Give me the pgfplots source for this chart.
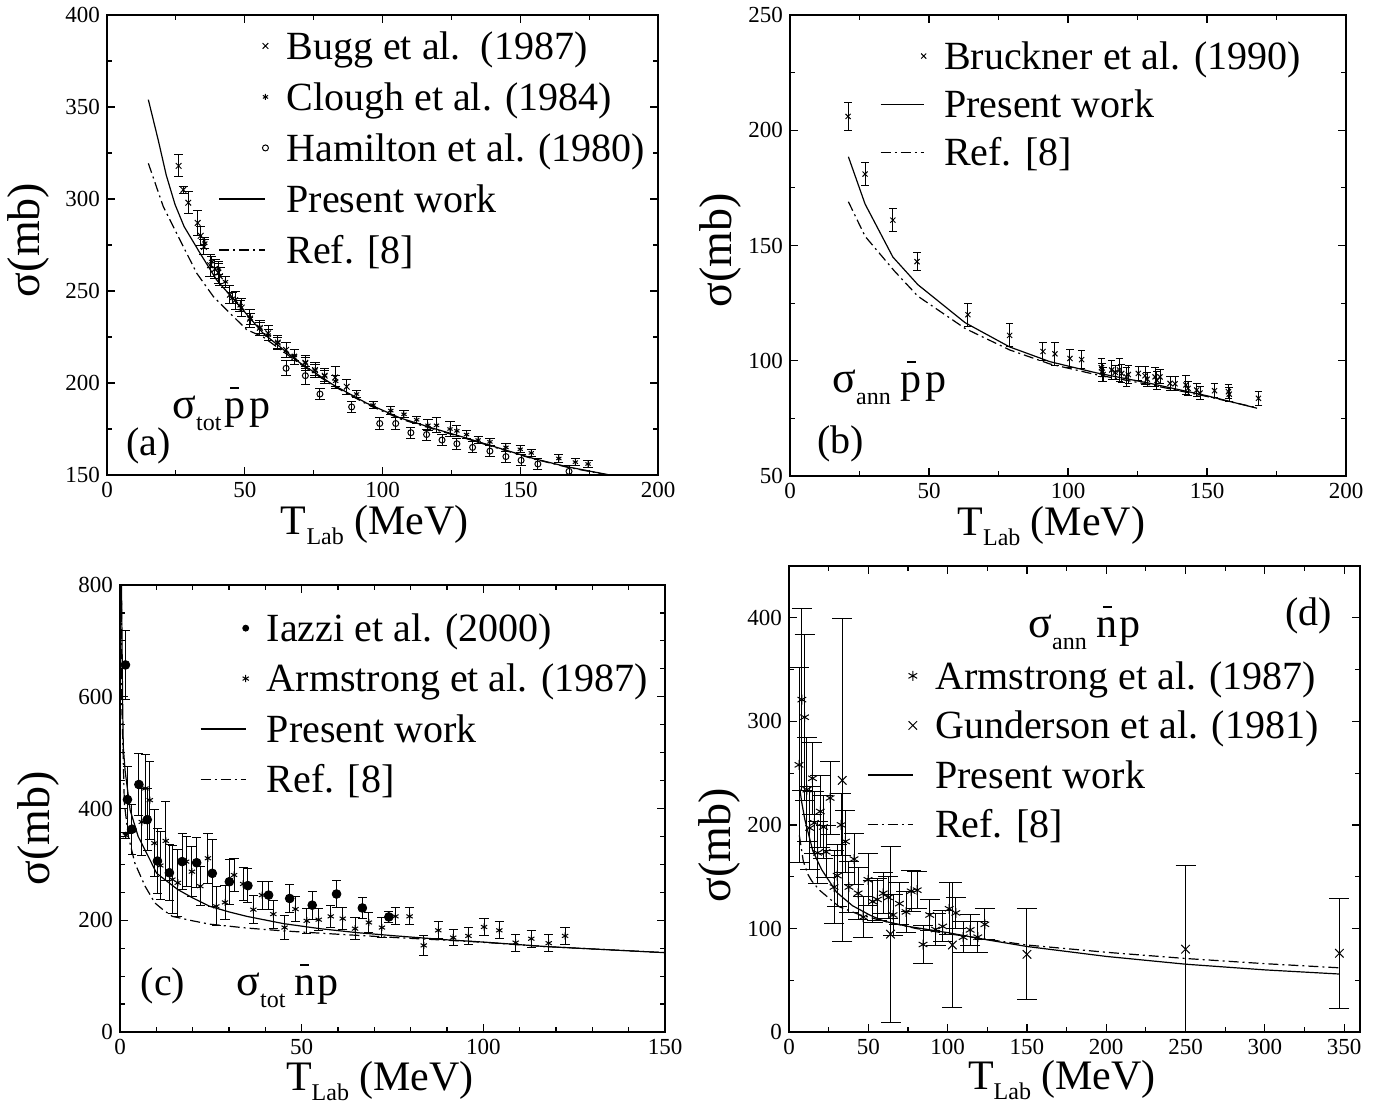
\documentclass[border=0pt]{standalone}
\usepackage{fontspec}
\setmainfont{Liberation Serif}
\usepackage{pgfplots}
\pgfplotsset{compat=1.18}

\newcommand{\ovl}[1]{\makebox[0pt][l]{\hspace{3pt}\rule[14.5pt]{4.5pt}{0.8pt}}#1}
\newcommand{\sig}[3]{{\fontsize{22}{26}\selectfont σ}\raisebox{-6pt}{\fontsize{12}{14}\selectfont #1}\hspace{#3}{\fontsize{21}{25}\selectfont #2}}

\pgfplotsset{
  base/.style={
    scale only axis,
    axis line style={line width=0.9pt},
    every tick/.style={black, line width=0.6pt},
    major tick length=4pt, minor tick length=2.5pt,
    tick align=inside,
    tick label style={font=\fontsize{11.5}{13}\selectfont},
    /pgf/number format/assume math mode=true,
    xlabel style={font=\fontsize{21}{25}\selectfont, anchor=base},
    ylabel style={font=\fontsize{23}{27}\selectfont, anchor=center},
    legend cell align=left,
    legend style={draw=none, fill=none, inner sep=0pt, outer sep=0pt, anchor=north west,
       font=\fontsize{20}{24}\selectfont,
       nodes={inner sep=0pt, text height=17pt, text depth=3.8pt},
       /tikz/every odd column/.append style={column sep=9pt}},
  },
  sol/.style={black, line width=0.6pt, mark=none},
  dd/.style={black, line width=0.6pt, mark=none, dash pattern=on 5pt off 2pt on 1pt off 2pt},
  lineleg/.style={legend image code/.code={\draw[##1] (0pt,0pt) -- (#1,0pt);}},
  markleg/.style={legend image code/.code={\path[draw=none, fill=none, opacity=0] (0pt,0pt) rectangle (#1,0.1pt); \draw[##1, only marks] plot coordinates {(#1,0pt)};}},
  dotleg/.style={legend image code/.code={\path[draw=none, fill=none, opacity=0] (0pt,0pt) rectangle (#1,0.1pt); \draw[##1, only marks, mark size=1.5pt] plot coordinates {(#1,0pt)};}},
  ebar/.style={error bars/y dir=both, error bars/y explicit,
     error bars/error bar style={line width=0.5pt, black},
     error bars/error mark options={rotate=90, line width=0.5pt, mark size=#1, black}},
}

\begin{document}
\begin{tikzpicture}
\path[use as bounding box] (0pt,0pt) rectangle (692.5pt,-552pt);

% ---------------- (a) ----------------
\begin{axis}[base, at={(53.5pt,-7.5pt)}, anchor=north west, width=275.5pt, height=230pt,
  xmin=0, xmax=200, ymin=150, ymax=400,
  xtick={0,50,...,200}, ytick={150,200,...,400}, minor x tick num=1, minor y tick num=1,
  xlabel={T\raisebox{-5pt}{\fontsize{12}{14}\selectfont Lab} (MeV)}, ylabel={σ(mb)},
  xlabel style={at={(axis description cs:0.486,-0.130)}},
  ylabel style={at={(axis description cs:-0.143,0.511)}},
  legend style={at={(axis description cs:0.203,0.978)}, row sep=4.7pt}]
\addplot[only marks, mark=x, mark size=2pt, mark options={line width=0.5pt}, markleg=23pt, ebar=2.3pt]
 table[x=x, y=y, y error=e] {
x y e
26 318 6
27.7 305 2
29.5 298 6
32.9 287 7
34 280 5
35.2 274 4
37.4 264 6
39.2 262 5
40.4 260 6
41 258 5
44.6 248 5
46.5 245 5
48.9 241 5
51.9 235 5
55.5 230 4
58.5 227 4
62 222 4
65 218 4
68 214 4
72 211 4
75.5 207 4
79 204 4
82.8 203 6
87 198 4
};
\addlegendentry{Bugg et al.\ \ (1987)}
\addplot[only marks, mark=asterisk, mark size=1.5pt, mark options={line width=0.5pt}, markleg=23pt, ebar=2.3pt]
 table[x=x, y=y, y error=e] {
x y e
35.5 276 3
38 266 3
40.5 262 3
43 255 3
45.5 246 3
48.3 242 3
52 235 3
55.5 230 3
58.5 226 3
62 222 3
68 215 3
72 211 3
75.5 207 3
79 204 3
83 201 3
90.6 194 2
96.6 188 2
103 185 2
107.8 183 2
112.4 180 2
116.5 177 3
119.6 177 4
124.5 175 4
127 174 3
130.5 172 2
134.7 169 2
139 168 2
144.8 165 2
150 164 2
154 162 2
164 159 2
170 157 2
174.6 156 2
};
\addlegendentry{Clough et al. (1984)}
\addplot[only marks, mark=o, mark size=1.5pt, mark options={line width=0.5pt}, markleg=23pt, ebar=2.3pt]
 table[x=x, y=y, y error=e] {
x y e
65 208 4
72 204 5
77.3 194 3
88.8 187 3
99 178 3
104.8 178 3
110.3 173 3
116 172 3
121.6 169 3
127 167 3
132.7 165 3
139 163 3
144.8 160 3
150.3 158 3
156.4 156 3
167.7 152 3
};
\addlegendentry{Hamilton et al. (1980)}
\addplot[sol, lineleg=23pt] table[x=x, y=y] {
x y
15 354
18.6 332
21.5 313
24.7 297
28 285
33.8 270.5
39.8 256
48.3 241.5
56.7 227
70 211
82.1 199
94.3 189
106.4 181
118.4 175.4
130.6 170
142.6 164.5
154.7 159
166.9 154.5
182.6 150
};
\addlegendentry{Present work}
\addplot[dd, lineleg=23pt] table[x=x, y=y] {
x y
15 319.4
20.4 296
26.5 277.7
32.6 259.6
38.6 247
44.6 238
50.7 229
56.7 225
70 210.5
82.1 198.5
94.3 188.5
106.4 180.5
118.4 175
130.6 169.7
142.6 164.2
154.7 158.8
166.9 154.3
182.6 149.8
};
\addlegendentry{Ref. [8]}
\end{axis}

% ---------------- (b) ----------------
\begin{axis}[base, at={(395pt,-7.5pt)}, anchor=north west, width=278pt, height=230.5pt,
  xmin=0, xmax=200, ymin=50, ymax=250,
  xtick={0,50,...,200}, ytick={50,100,...,250}, minor x tick num=1, minor y tick num=1,
  xlabel={T\raisebox{-5pt}{\fontsize{12}{14}\selectfont Lab} (MeV)}, ylabel={σ(mb)},
  xlabel style={at={(axis description cs:0.47,-0.130)}},
  ylabel style={at={(axis description cs:-0.126,0.49)}},
  legend style={at={(axis description cs:0.162,0.956)}, row sep=3.35pt}]
\addplot[only marks, mark=x, mark size=1.8pt, mark options={line width=0.5pt}, markleg=21.5pt, ebar=1.9pt]
 table[x=x, y=y, y error=e] {
x y e
20.9 206 6
27 181 5
37 161 5
45.7 143 4
64 120 5
79 111 5
91 104 4
95.3 103 5
100.7 101 4
104.9 100.5 4
112 97 4
112.3 95 4
112.6 94 3
115.7 96 4
117 95 3
118.5 96 5
119.3 94.5 4
121 93 4
121.7 94 4
125.3 94.5 3
127.7 93.5 4
128.5 92 3
131.3 93 4
132 91.5 4
133.1 93 3
136.7 90.2 3
138.5 90 3
142.4 89.5 4
143.2 88 3
146.3 87.3 3
147.5 86 3
152.7 87 3
157.7 86.6 3
158 85.5 3
168.5 83.7 3
};
\addlegendentry{Bruckner et al. (1990)}
\addplot[sol, lineleg=21.5pt] table[x=x, y=y] {
x y
21 188.5
27 168
37 145
46 133
63 116.5
79 106
93.5 99.6
110 94.8
129.5 90.2
150 84.8
168 79.4
};
\addlegendentry{Present work}
\addplot[dd, lineleg=21.5pt] table[x=x, y=y] {
x y
21 169
27 154
37.5 139
46 128
63 114
79 104.7
93.5 98.6
110 94
129.5 89.6
150 84.5
168 79.6
};
\addlegendentry{Ref. [8]}
\end{axis}

% ---------------- (c) ----------------
\begin{axis}[base, at={(60pt,-292.5pt)}, anchor=north west, width=272.5pt, height=223.5pt,
  xmin=0, xmax=150, ymin=0, ymax=800,
  xtick={0,50,100,150}, ytick={0,200,...,800}, minor x tick num=4, minor y tick num=3,
  xlabel={T\raisebox{-5pt}{\fontsize{12}{14}\selectfont Lab} (MeV)}, ylabel={σ(mb)},
  xlabel style={at={(axis description cs:0.477,-0.130)}},
  ylabel style={at={(axis description cs:-0.150,0.456)}},
  legend style={at={(axis description cs:0.147,0.950)}, row sep=4.4pt}]
\addplot[only marks, mark=*, mark size=2.2pt, dotleg=22.5pt, ebar=2.2pt]
 table[x=x, y=y, y error=e] {
x y e
1.5 657 62
2.05 416 60
3.3 363 45
5.2 443 55
7.5 380 55
10.3 306 58
13.6 285 50
17.1 305 50
21.1 303 45
25.4 284 60
30.1 269 40
35.2 262 30
40.9 245 25
46.7 239 25
52.9 227 25
59.6 247 25
66.7 222 18
74 206 10
};
\addlegendentry{Iazzi et al. (2000)}
\addplot[only marks, mark=asterisk, mark size=1.8pt, mark options={line width=0.5pt}, markleg=22.5pt, ebar=2.3pt]
 table[x=x, y=y, y error=e] {
x y e
1.6 352 5
6 376 60
7 436 60
8.2 415 70
9.5 338 60
11.1 298 60
12.6 342 70
14.4 273 60
15.9 267 60
18.2 305 45
19.8 287 45
22.1 261 35
24.2 311 45
26.5 225 35
28.9 232 30
31.4 281 30
33.9 265 30
36.7 219 25
39.1 245 25
42.2 211 25
45.3 187 22
48.3 220 22
51.4 199 22
54.7 201 20
58 207 20
61.3 203 20
64.7 185 20
68.5 196 18
72.1 187 18
75.8 207 15
79.7 207 15
83.6 155 18
87.6 182 15
91.7 169 15
95.9 172 15
100.2 188 15
104.4 182 15
108.9 160 15
113.2 167 15
118 159 15
122.5 172 15
};
\addlegendentry{Armstrong et al. (1987)}
\addplot[sol, lineleg=22.5pt] table[x=x, y=y] {
x y
0.2 900
0.4 810
0.7 600
0.9 510
1.4 468
2.8 397
5 350
7.8 314
10.1 284
15.9 255
20 240
24.7 225
30 215
34.9 207
45 194
55 185
65 178
76 172
90 165
100 161
117 153
135 147
150 142
};
\addlegendentry{Present work}
\addplot[dd, lineleg=22.5pt] table[x=x, y=y] {
x y
0.2 900
0.4 760
0.5 587
1.2 409
2.3 350
4.1 302
6.9 261
9.6 231
12 218
14.4 207
20 199
24.7 193
35 186
45 181
60 175
76 169
96.6 162
117 153
150 142
};
\addlegendentry{Ref. [8]}
\end{axis}

% ---------------- (d) ----------------
\begin{axis}[base, at={(394.5pt,-283pt)}, anchor=north west, width=285.5pt, height=233pt,
  xmin=0, xmax=360, ymin=0, ymax=450,
  xtick={0,50,...,350}, ytick={0,100,...,400}, minor x tick num=1, minor y tick num=1,
  xlabel={T\raisebox{-5pt}{\fontsize{12}{14}\selectfont Lab} (MeV)}, ylabel={σ(mb)},
  xlabel style={at={(axis description cs:0.478,-0.124)}},
  ylabel style={at={(axis description cs:-0.121,0.40)}},
  legend style={at={(axis description cs:0.137,0.809)}, row sep=4pt}]
\addplot[only marks, mark=asterisk, mark size=2.5pt, mark options={line width=0.5pt}, markleg=22.5pt, ebar=5pt]
 table[x=x, y=y, y error=e] {
x y e
6.3 258 94
8.1 321 88
9.8 304 80
11.3 234 50
13 197 40
14.8 245 35
16 202 30
18 173 30
19.7 213 35
21.7 198 30
23.4 174 25
25.9 226 35
28.4 140 35
30.4 151 30
32.9 200 30
35.6 184 30
37.8 140 25
41 167 25
43.6 134 25
46.8 111 20
49.8 147 25
52.7 126 20
55.7 128 20
59.4 134 20
62.6 130 20
65.6 113 20
69.6 124 20
73.8 116 20
77 136 20
80.8 137 18
84.5 84.5 18
88.7 113 15
92.4 99 15
96.9 102 15
101 119 25
105.2 115 15
109.8 91.6 15
114.2 98.6 15
119 91.6 15
123.5 104 15
};
\addlegendentry{Armstrong et al. (1987)}
\addplot[only marks, mark=x, mark size=3pt, mark options={line width=0.5pt}, markleg=22.5pt, ebar=5pt]
 table[x=x, y=y, y error=e] {
x y e
33.6 243 156
64 94.5 85
103 84 60
150 75 44
250 80 81
347 76 53
};
\addlegendentry{Gunderson et al. (1981)}
\addplot[sol, lineleg=22.5pt] table[x=x, y=y] {
x y
6.8 235
8 222
10 205
12 193
15 175
20.5 157
30 135
40 122
51.5 112.5
60 107
75 102
100 96
125 89
150 82.6
200 73
250 65.5
300 60
347 56
};
\addlegendentry{Present work}
\addplot[dd, lineleg=22.5pt] table[x=x, y=y] {
x y
6.5 190
9 165
12 152
14.3 146
19.2 137
31.6 121
45 113
60 107
80 100
100 95
150 84
200 77
250 71
300 66
347 62
};
\addlegendentry{Ref. [8]}
\end{axis}

% ---------------- annotations ----------------
\node[anchor=base west, inner sep=0pt, font=\fontsize{20}{24}\selectfont] at (63pt,-227.5pt) {(a)};
\node[anchor=base west, inner sep=0pt] at (86pt,-209pt) {\sig{tot}{\ovl{p}\hspace{2pt}p}{1.5pt}};
\node[anchor=base west, inner sep=0pt, font=\fontsize{20}{24}\selectfont] at (408.5pt,-226.5pt) {(b)};
\node[anchor=base west, inner sep=0pt] at (416pt,-196pt) {\sig{ann}{\ovl{p}\hspace{2pt}p}{5pt}};
\node[anchor=base west, inner sep=0pt, font=\fontsize{20}{24}\selectfont] at (70.25pt,-497.5pt) {(c)};
\node[anchor=base west, inner sep=0pt] at (118pt,-497.5pt) {\sig{tot}{\ovl{n}\hspace{1pt}p}{4.5pt}};
\node[anchor=base west, inner sep=0pt, font=\fontsize{20}{24}\selectfont] at (642.5pt,-312.5pt) {(d)};
\node[anchor=base west, inner sep=0pt] at (514pt,-318.5pt) {\sig{ann}{\ovl{n}\hspace{1pt}p}{5pt}};
\end{tikzpicture}
\end{document}
